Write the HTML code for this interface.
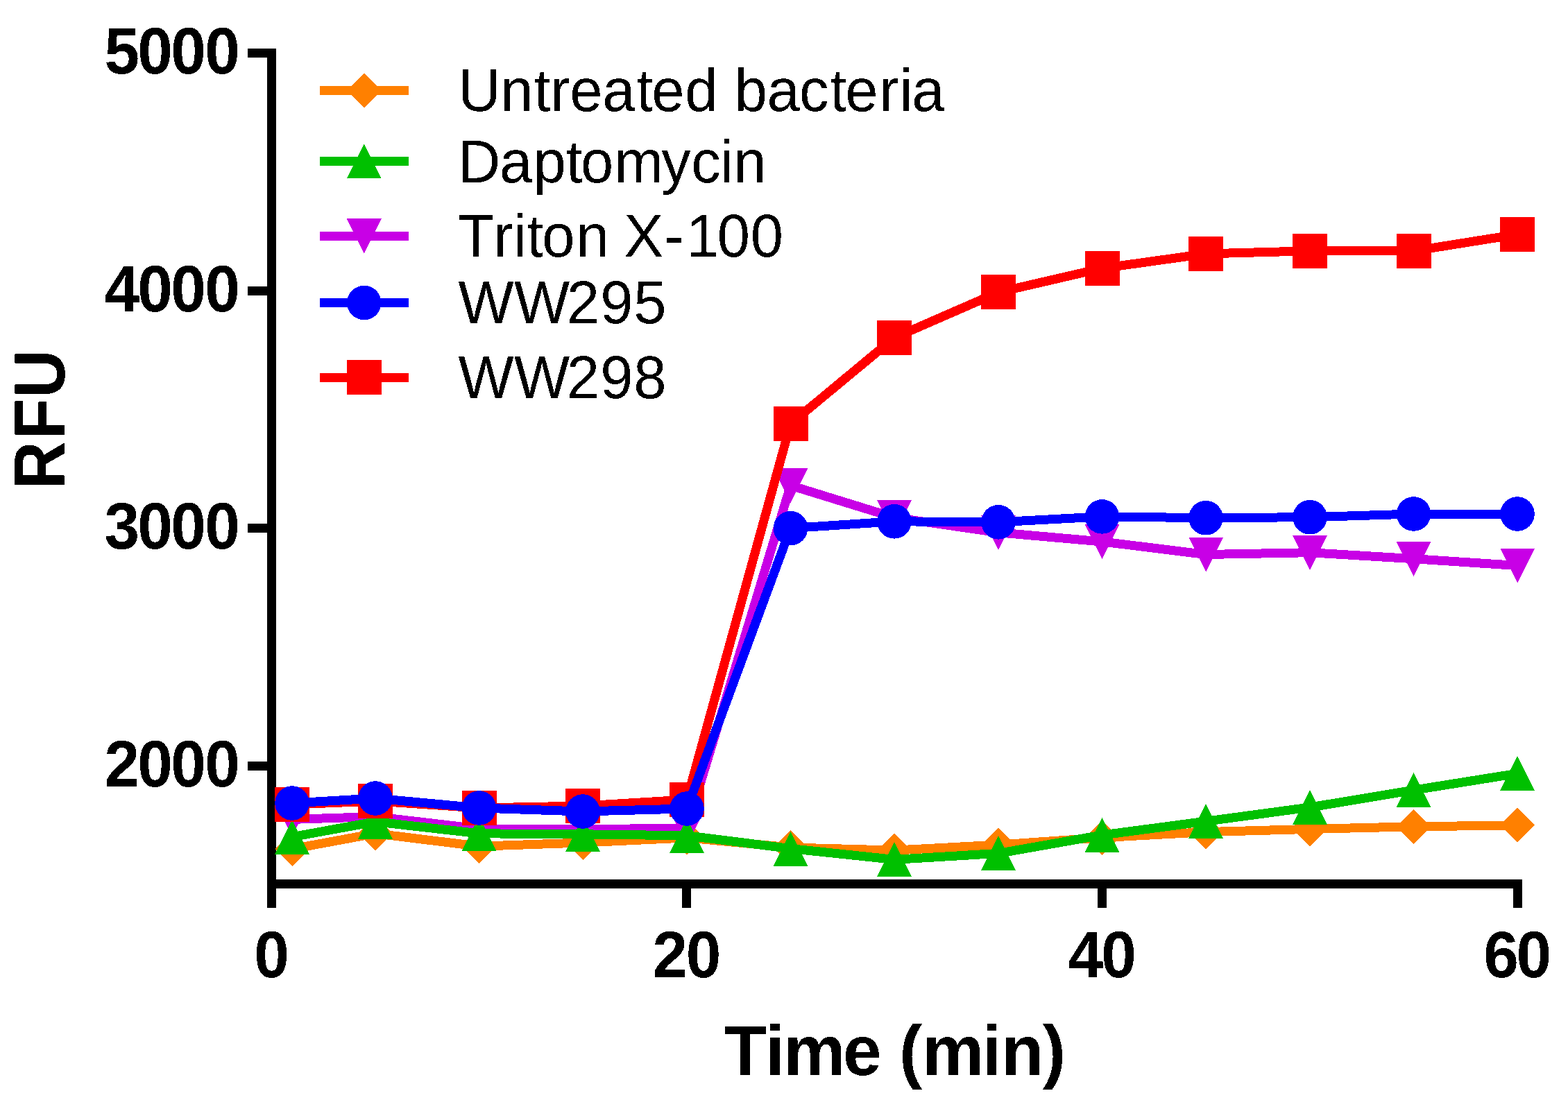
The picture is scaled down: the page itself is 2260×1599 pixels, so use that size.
<!DOCTYPE html>
<html><head><meta charset="utf-8"><title>RFU vs Time</title>
<style>
html,body{margin:0;padding:0;background:#fff;}
svg{display:block;}
.lg{font-family:"Liberation Sans",Arial,sans-serif;font-size:85px;fill:#000;}
.tk{font-family:"Liberation Sans",Arial,sans-serif;font-weight:bold;font-size:91px;fill:#000;}
.ti{font-family:"Liberation Sans",Arial,sans-serif;font-weight:bold;font-size:100px;fill:#000;}
</style></head><body>
<svg width="2260" height="1599" viewBox="0 0 2260 1599" shape-rendering="crispEdges">
<defs><filter id="bin" x="0" y="0" width="2260" height="1599" filterUnits="userSpaceOnUse" color-interpolation-filters="sRGB"><feComponentTransfer><feFuncA type="discrete" tableValues="0 1"/></feComponentTransfer></filter></defs>
<rect width="2260" height="1599" fill="#fff"/>
<g filter="url(#bin)">
<text class="tk" transform="translate(0,106.0) scale(1,1.03)" x="150.5 198.3 246.2 295.3" y="0">5000</text>
<text class="tk" transform="translate(0,448.8) scale(1,1.03)" x="150.5 198.3 246.2 295.3" y="0">4000</text>
<text class="tk" transform="translate(0,791.5) scale(1,1.03)" x="150.5 198.3 246.2 295.3" y="0">3000</text>
<text class="tk" transform="translate(0,1134.0) scale(1,1.03)" x="150.5 198.3 246.2 295.3" y="0">2000</text>
<text class="tk" transform="translate(0,1409.0) scale(1,1.03)" x="366.2" y="0">0</text>
<text class="tk" transform="translate(0,1409.0) scale(1,1.03)" x="940.5 988.8" y="0">20</text>
<text class="tk" transform="translate(0,1409.0) scale(1,1.03)" x="1539.5 1587.3" y="0">40</text>
<text class="tk" transform="translate(0,1409.0) scale(1,1.03)" x="2138.2 2185.4" y="0">60</text>
<text class="ti" transform="translate(0,1550) scale(1,1.02)" x="1043.4 1103.1 1129.4 1214.9 1270.5 1295.9 1329.2 1415.8 1443.3 1502.7" y="0">Time (min)</text>
<text class="ti" transform="translate(93,705.6) rotate(-90) scale(0.96,1.045)" x="0 75.4 137.5" y="0">RFU</text>
<text transform="translate(0,160.1) scale(1,1.027)" x="660.15 721.26 769.80 793.26 821.29 868.29 917.60 939.19 987.33 1034.00 1058.72 1105.39 1152.09 1196.60 1218.29 1267.26 1296.41 1314.29" y="0" class="lg">Untreated bacteria</text>
<text transform="translate(0,262.9) scale(1,1.027)" x="660.00 720.10 768.50 816.10 837.10 885.20 953.30 996.20 1038.10 1057.20" y="0" class="lg">Daptomycin</text>
<text transform="translate(0,369.9) scale(1,1.027)" x="659.79 711.26 740.31 759.62 781.33 830.46 877.00 899.39 957.43 989.32 1033.68 1081.68" y="0" class="lg">Triton X-100</text>
<text transform="translate(0,465.8) scale(1,1.027)" x="660.63 741.00 816.70 865.30 913.30" y="0" class="lg">WW295</text>
<text transform="translate(0,573.7) scale(1,1.027)" x="660.63 741.00 816.70 865.30 913.20" y="0" class="lg">WW298</text>
</g>
<rect x="385" y="70" width="13" height="1239" fill="#000"/>
<rect x="385" y="1268" width="1809" height="13" fill="#000"/>
<rect x="357" y="69.8" width="28" height="13" fill="#000"/>
<rect x="357" y="412.9" width="28" height="13" fill="#000"/>
<rect x="357" y="754.9" width="28" height="13" fill="#000"/>
<rect x="357" y="1098.0" width="28" height="13" fill="#000"/>
<rect x="983.0" y="1281" width="13" height="28" fill="#000"/>
<rect x="1581.9" y="1281" width="13" height="28" fill="#000"/>
<rect x="2180.8" y="1281" width="13" height="28" fill="#000"/>
<rect x="461" y="123.9" width="128" height="13" fill="#FF8000"/>
<polygon points="524.8,105.4 549.8,130.4 524.8,155.4 499.8,130.4" fill="#FF8000"/>
<rect x="461" y="225.9" width="128" height="13" fill="#00C000"/>
<polygon points="524.8,207.4 549.8,257.4 499.8,257.4" fill="#00C000"/>
<rect x="461" y="333.9" width="128" height="13" fill="#C800E6"/>
<polygon points="499.8,315.4 549.8,315.4 524.8,365.4" fill="#C800E6"/>
<rect x="461" y="430.0" width="128" height="13" fill="#0000FF"/>
<circle cx="524.8" cy="436.5" r="24.8" fill="#0000FF"/>
<rect x="461" y="537.9" width="128" height="13" fill="#FF0000"/>
<rect x="499.8" y="519.4" width="50" height="50" fill="#FF0000"/>
<polyline points="421.0,1224.0 541.0,1201.8 690.5,1220.2 840.0,1215.0 990.0,1207.9 1139.5,1222.0 1289.0,1226.1 1439.0,1218.1 1588.5,1207.7 1738.0,1199.6 1888.0,1195.4 2037.5,1191.8 2187.0,1189.9" fill="none" stroke="#FF8000" stroke-width="13" stroke-linejoin="miter" stroke-miterlimit="3"/>
<polygon points="421.0,1199.0 446.0,1224.0 421.0,1249.0 396.0,1224.0" fill="#FF8000"/>
<polygon points="541.0,1176.8 566.0,1201.8 541.0,1226.8 516.0,1201.8" fill="#FF8000"/>
<polygon points="690.5,1195.2 715.5,1220.2 690.5,1245.2 665.5,1220.2" fill="#FF8000"/>
<polygon points="840.0,1190.0 865.0,1215.0 840.0,1240.0 815.0,1215.0" fill="#FF8000"/>
<polygon points="990.0,1182.9 1015.0,1207.9 990.0,1232.9 965.0,1207.9" fill="#FF8000"/>
<polygon points="1139.5,1197.0 1164.5,1222.0 1139.5,1247.0 1114.5,1222.0" fill="#FF8000"/>
<polygon points="1289.0,1201.1 1314.0,1226.1 1289.0,1251.1 1264.0,1226.1" fill="#FF8000"/>
<polygon points="1439.0,1193.1 1464.0,1218.1 1439.0,1243.1 1414.0,1218.1" fill="#FF8000"/>
<polygon points="1588.5,1182.7 1613.5,1207.7 1588.5,1232.7 1563.5,1207.7" fill="#FF8000"/>
<polygon points="1738.0,1174.6 1763.0,1199.6 1738.0,1224.6 1713.0,1199.6" fill="#FF8000"/>
<polygon points="1888.0,1170.4 1913.0,1195.4 1888.0,1220.4 1863.0,1195.4" fill="#FF8000"/>
<polygon points="2037.5,1166.8 2062.5,1191.8 2037.5,1216.8 2012.5,1191.8" fill="#FF8000"/>
<polygon points="2187.0,1164.9 2212.0,1189.9 2187.0,1214.9 2162.0,1189.9" fill="#FF8000"/>
<polyline points="421.0,1181.4 541.0,1177.5 690.5,1195.0 840.0,1196.0 990.0,1193.8 1139.5,700.0 1289.0,746.2 1439.0,767.8 1588.5,781.0 1738.0,799.5 1888.0,796.7 2037.5,805.7 2187.0,815.5" fill="none" stroke="#C800E6" stroke-width="13" stroke-linejoin="miter" stroke-miterlimit="3"/>
<polygon points="396.0,1156.4 446.0,1156.4 421.0,1206.4" fill="#C800E6"/>
<polygon points="516.0,1152.5 566.0,1152.5 541.0,1202.5" fill="#C800E6"/>
<polygon points="665.5,1170.0 715.5,1170.0 690.5,1220.0" fill="#C800E6"/>
<polygon points="815.0,1171.0 865.0,1171.0 840.0,1221.0" fill="#C800E6"/>
<polygon points="965.0,1168.8 1015.0,1168.8 990.0,1218.8" fill="#C800E6"/>
<polygon points="1114.5,675.0 1164.5,675.0 1139.5,725.0" fill="#C800E6"/>
<polygon points="1264.0,721.2 1314.0,721.2 1289.0,771.2" fill="#C800E6"/>
<polygon points="1414.0,742.8 1464.0,742.8 1439.0,792.8" fill="#C800E6"/>
<polygon points="1563.5,756.0 1613.5,756.0 1588.5,806.0" fill="#C800E6"/>
<polygon points="1713.0,774.5 1763.0,774.5 1738.0,824.5" fill="#C800E6"/>
<polygon points="1863.0,771.7 1913.0,771.7 1888.0,821.7" fill="#C800E6"/>
<polygon points="2012.5,780.7 2062.5,780.7 2037.5,830.7" fill="#C800E6"/>
<polygon points="2162.0,790.5 2212.0,790.5 2187.0,840.5" fill="#C800E6"/>
<polyline points="421.0,1206.7 541.0,1184.8 690.5,1201.8 840.0,1202.8 990.0,1204.8 1139.5,1223.6 1289.0,1239.4 1439.0,1230.4 1588.5,1204.0 1738.0,1184.2 1888.0,1164.0 2037.5,1139.2 2187.0,1115.3" fill="none" stroke="#00C000" stroke-width="13" stroke-linejoin="miter" stroke-miterlimit="3"/>
<polygon points="421.0,1181.7 446.0,1231.7 396.0,1231.7" fill="#00C000"/>
<polygon points="541.0,1159.8 566.0,1209.8 516.0,1209.8" fill="#00C000"/>
<polygon points="690.5,1176.8 715.5,1226.8 665.5,1226.8" fill="#00C000"/>
<polygon points="840.0,1177.8 865.0,1227.8 815.0,1227.8" fill="#00C000"/>
<polygon points="990.0,1179.8 1015.0,1229.8 965.0,1229.8" fill="#00C000"/>
<polygon points="1139.5,1198.6 1164.5,1248.6 1114.5,1248.6" fill="#00C000"/>
<polygon points="1289.0,1214.4 1314.0,1264.4 1264.0,1264.4" fill="#00C000"/>
<polygon points="1439.0,1205.4 1464.0,1255.4 1414.0,1255.4" fill="#00C000"/>
<polygon points="1588.5,1179.0 1613.5,1229.0 1563.5,1229.0" fill="#00C000"/>
<polygon points="1738.0,1159.2 1763.0,1209.2 1713.0,1209.2" fill="#00C000"/>
<polygon points="1888.0,1139.0 1913.0,1189.0 1863.0,1189.0" fill="#00C000"/>
<polygon points="2037.5,1114.2 2062.5,1164.2 2012.5,1164.2" fill="#00C000"/>
<polygon points="2187.0,1090.3 2212.0,1140.3 2162.0,1140.3" fill="#00C000"/>
<polyline points="421.0,1160.0 541.0,1155.0 690.5,1165.0 840.0,1162.0 990.0,1153.0 1139.5,611.0 1289.0,487.0 1439.0,421.4 1588.5,386.8 1738.0,365.9 1888.0,361.8 2037.5,361.8 2187.0,337.9" fill="none" stroke="#FF0000" stroke-width="13" stroke-linejoin="miter" stroke-miterlimit="3"/>
<rect x="396.0" y="1135.0" width="50" height="50" fill="#FF0000"/>
<rect x="516.0" y="1130.0" width="50" height="50" fill="#FF0000"/>
<rect x="665.5" y="1140.0" width="50" height="50" fill="#FF0000"/>
<rect x="815.0" y="1137.0" width="50" height="50" fill="#FF0000"/>
<rect x="965.0" y="1128.0" width="50" height="50" fill="#FF0000"/>
<rect x="1114.5" y="586.0" width="50" height="50" fill="#FF0000"/>
<rect x="1264.0" y="462.0" width="50" height="50" fill="#FF0000"/>
<rect x="1414.0" y="396.4" width="50" height="50" fill="#FF0000"/>
<rect x="1563.5" y="361.8" width="50" height="50" fill="#FF0000"/>
<rect x="1713.0" y="340.9" width="50" height="50" fill="#FF0000"/>
<rect x="1863.0" y="336.8" width="50" height="50" fill="#FF0000"/>
<rect x="2012.5" y="336.8" width="50" height="50" fill="#FF0000"/>
<rect x="2162.0" y="312.9" width="50" height="50" fill="#FF0000"/>
<polyline points="421.0,1158.0 541.0,1151.0 690.5,1165.0 840.0,1170.0 990.0,1166.0 1139.5,761.6 1289.0,751.8 1439.0,752.8 1588.5,744.9 1738.0,746.7 1888.0,745.7 2037.5,741.0 2187.0,741.0" fill="none" stroke="#0000FF" stroke-width="13" stroke-linejoin="miter" stroke-miterlimit="3"/>
<circle cx="421.0" cy="1158.0" r="24.8" fill="#0000FF"/>
<circle cx="541.0" cy="1151.0" r="24.8" fill="#0000FF"/>
<circle cx="690.5" cy="1165.0" r="24.8" fill="#0000FF"/>
<circle cx="840.0" cy="1170.0" r="24.8" fill="#0000FF"/>
<circle cx="990.0" cy="1166.0" r="24.8" fill="#0000FF"/>
<circle cx="1139.5" cy="761.6" r="24.8" fill="#0000FF"/>
<circle cx="1289.0" cy="751.8" r="24.8" fill="#0000FF"/>
<circle cx="1439.0" cy="752.8" r="24.8" fill="#0000FF"/>
<circle cx="1588.5" cy="744.9" r="24.8" fill="#0000FF"/>
<circle cx="1738.0" cy="746.7" r="24.8" fill="#0000FF"/>
<circle cx="1888.0" cy="745.7" r="24.8" fill="#0000FF"/>
<circle cx="2037.5" cy="741.0" r="24.8" fill="#0000FF"/>
<circle cx="2187.0" cy="741.0" r="24.8" fill="#0000FF"/>
</svg>
</body></html>
